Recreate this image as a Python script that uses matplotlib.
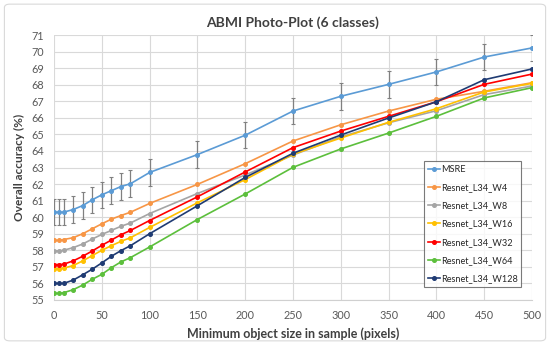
import matplotlib
matplotlib.use("Agg")
import matplotlib.pyplot as plt
from matplotlib.patches import FancyBboxPatch

plt.rcParams['font.family'] = ['Lato', 'DejaVu Sans']

sizes = [0, 5, 10, 20, 30, 40, 50, 60, 70, 80, 100, 150, 200, 250, 300, 350, 400, 450, 500]

msre = [60.3, 60.3, 60.3, 60.46, 60.7, 61.05, 61.35, 61.6, 61.85, 62.02, 62.7, 63.78, 64.95, 66.41, 67.3, 68.02, 68.77, 69.67, 70.22]
msre_err = [0.8] * len(sizes)
w4 = [58.6, 58.6, 58.65, 58.76, 59.0, 59.3, 59.6, 59.88, 60.1, 60.3, 60.83, 61.98, 63.23, 64.6, 65.58, 66.41, 67.12, 67.6, 68.12]
w8 = [57.96, 57.97, 58.0, 58.16, 58.38, 58.68, 58.96, 59.2, 59.45, 59.65, 60.22, 61.43, 62.55, 63.75, 64.85, 65.7, 66.43, 67.4, 67.92]
w16 = [56.9, 56.9, 56.92, 57.08, 57.36, 57.68, 58.0, 58.28, 58.54, 58.76, 59.38, 60.87, 62.27, 63.8, 64.78, 65.73, 66.55, 67.56, 68.08]
w32 = [57.14, 57.14, 57.16, 57.36, 57.64, 57.96, 58.3, 58.62, 58.94, 59.2, 59.8, 61.23, 62.73, 64.2, 65.2, 66.09, 66.97, 68.02, 68.64]
w64 = [55.4, 55.4, 55.44, 55.62, 55.9, 56.25, 56.55, 56.95, 57.3, 57.56, 58.2, 59.86, 61.4, 63.01, 64.12, 65.08, 66.09, 67.2, 67.82]
w128 = [56.0, 56.0, 56.0, 56.2, 56.52, 56.86, 57.24, 57.64, 57.98, 58.28, 59.0, 60.69, 62.4, 63.86, 64.96, 65.99, 66.97, 68.3, 68.95]

series_names = ["MSRE", "Resnet_L34_W4", "Resnet_L34_W8", "Resnet_L34_W16",
                "Resnet_L34_W32", "Resnet_L34_W64", "Resnet_L34_W128"]
colors = ["#5B9BD5", "#F79646", "#A5A5A5", "#FFC000", "#FF0000", "#5CBF3C", "#1F3B73"]

x_ticks = list(range(0, 501, 50))
y_ticks = list(range(55, 72))

fig = plt.figure(figsize=(5.5, 3.45), dpi=100)
ax = fig.add_axes([54/550, 1-300/345, (532-54)/550, (300-35)/345])

border = FancyBboxPatch((0.008, 0.012), 0.984, 0.976, boxstyle="round,pad=0,rounding_size=0.01",
                        transform=fig.transFigure, fill=False, edgecolor="#D9D9D9", linewidth=0.8)
fig.patches.append(border)

all_vals = [msre, w4, w8, w16, w32, w64, w128]
for name, vals, c in zip(series_names, all_vals, colors):
    if name == "MSRE":
        ax.errorbar(sizes, vals, yerr=msre_err, fmt='none', ecolor="#808080",
                    elinewidth=0.9, capsize=1.5, capthick=0.8, zorder=2)
    ax.plot(sizes, vals, color=c, marker='o', markersize=2.6, linewidth=1.2,
            label=name, zorder=3)

ax.set_xlim(0, 500)
ax.set_ylim(55, 71)
ax.set_xticks(x_ticks)
ax.set_yticks(y_ticks)
ax.grid(True, color="#D9D9D9", linewidth=0.8)
ax.set_axisbelow(True)
for s in ['top', 'right', 'left']:
    ax.spines[s].set_visible(False)
ax.spines['bottom'].set_color("#D0D0D0")
ax.tick_params(axis='both', length=0, labelsize=7.8, labelcolor="#595959")
ax.tick_params(axis='y', pad=7)
ax.tick_params(axis='x', pad=7)

ax.set_title("ABMI Photo-Plot (6 classes)", fontsize=10, fontweight='bold', color="#404040", pad=6)
ax.set_xlabel("Minimum object size in sample (pixels)", fontsize=9, fontweight='bold', color="#404040", labelpad=5)
ax.set_ylabel("Overall accuracy (%)", fontsize=8.6, fontweight='bold', color="#404040", labelpad=5)

leg = ax.legend(loc='lower right', bbox_to_anchor=(0.978, 0.05), borderaxespad=0, frameon=True,
                fancybox=False, edgecolor="#595959", handlelength=1.25, handletextpad=0.15,
                labelspacing=1.0, borderpad=0.4, prop={'size': 6.6})
leg.get_frame().set_linewidth(0.8)
for t in leg.get_texts():
    t.set_color("#262626")

fig.savefig("out.png", dpi=100)
